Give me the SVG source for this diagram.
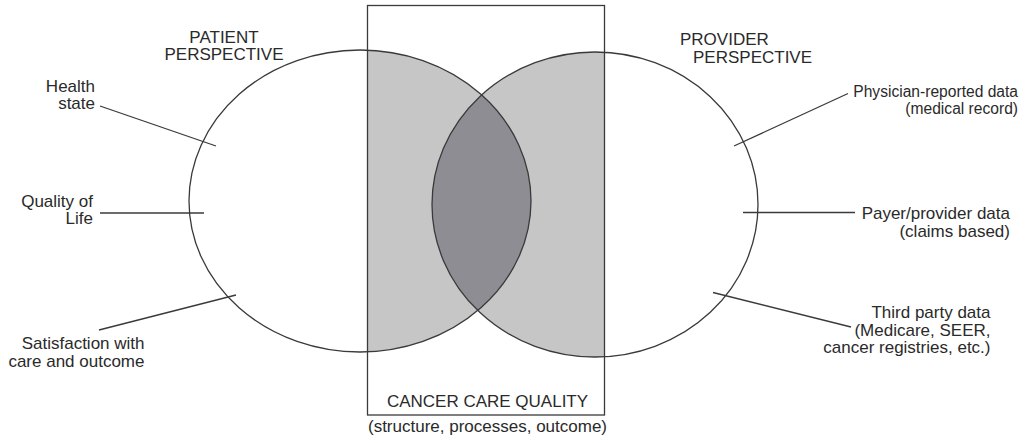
<svg xmlns="http://www.w3.org/2000/svg" width="1028" height="443" viewBox="0 0 1028 443">
<style>
  .lbl { font-family: "Liberation Sans", Arial, Helvetica, sans-serif; font-size: 17px; fill: #2a2a2a; }
  .sm { font-size: 15.6px; }
  .r { text-anchor: end; }
  .m { text-anchor: middle; }
  .edge { stroke: #3a3a3a; stroke-width: 1.3; fill: none; }
  .outline { stroke: #3a3a3a; stroke-width: 1.3; fill: none; }
</style>
<defs>
  <clipPath id="clipRect"><rect x="367.5" y="5.5" width="237" height="409.5"/></clipPath>
  <clipPath id="clipRight"><ellipse cx="595" cy="204.5" rx="163" ry="152.5"/></clipPath>
</defs>
<rect width="1028" height="443" fill="#ffffff"/>

<g id="shading">
  <g clip-path="url(#clipRect)">
    <ellipse cx="360" cy="201" rx="171" ry="151" fill="#c6c6c6"/>
    <ellipse cx="595" cy="204.5" rx="163" ry="152.5" fill="#c6c6c6"/>
  </g>
  <ellipse cx="360" cy="201" rx="171" ry="151" fill="#8d8d93" clip-path="url(#clipRight)"/>
</g>

<g id="patient-perspective">
  <ellipse class="outline" cx="360" cy="201" rx="171" ry="151"/>
  <text class="lbl m" x="224" y="43">PATIENT</text>
  <text class="lbl m" x="224" y="60">PERSPECTIVE</text>
</g>

<g id="provider-perspective">
  <ellipse class="outline" cx="595" cy="204.5" rx="163" ry="152.5"/>
  <text class="lbl" x="680" y="45">PROVIDER</text>
  <text class="lbl" x="693" y="63">PERSPECTIVE</text>
</g>

<g id="cancer-care-quality">
  <rect class="outline" x="367.5" y="5.5" width="237" height="409.5"/>
  <text class="lbl m" x="487.5" y="407">CANCER CARE QUALITY</text>
  <text class="lbl m" x="487.5" y="432">(structure, processes, outcome)</text>
</g>

<g id="health-state">
  <text class="lbl r" x="95" y="91.5">Health</text>
  <text class="lbl r" x="95" y="109">state</text>
</g>
<g id="quality-of-life">
  <text class="lbl r" x="93" y="206.5">Quality of</text>
  <text class="lbl r" x="93" y="224">Life</text>
</g>
<g id="satisfaction">
  <text class="lbl r" x="144.5" y="349">Satisfaction with</text>
  <text class="lbl r" x="144.5" y="366.5">care and outcome</text>
</g>
<g id="physician-data">
  <text class="lbl sm r" x="1018" y="96.5">Physician-reported data</text>
  <text class="lbl sm r" x="1018" y="114">(medical record)</text>
</g>
<g id="payer-data">
  <text class="lbl r" x="1010" y="219">Payer/provider data</text>
  <text class="lbl r" x="1010" y="236.5">(claims based)</text>
</g>
<g id="third-party-data">
  <text class="lbl r" x="990.5" y="318">Third party data</text>
  <text class="lbl r" x="990.5" y="335.5">(Medicare, SEER,</text>
  <text class="lbl r" x="990.5" y="353">cancer registries, etc.)</text>
</g>

<g id="connectors">
  <line class="edge" x1="100" y1="106" x2="216" y2="146"/>
  <line class="edge" x1="100" y1="213" x2="204" y2="213"/>
  <line class="edge" x1="99" y1="330" x2="236" y2="295"/>
  <line class="edge" x1="848" y1="93.5" x2="734" y2="146"/>
  <line class="edge" x1="855" y1="212.5" x2="743" y2="212.5"/>
  <line class="edge" x1="713" y1="292.5" x2="851" y2="327"/>
</g>
</svg>
